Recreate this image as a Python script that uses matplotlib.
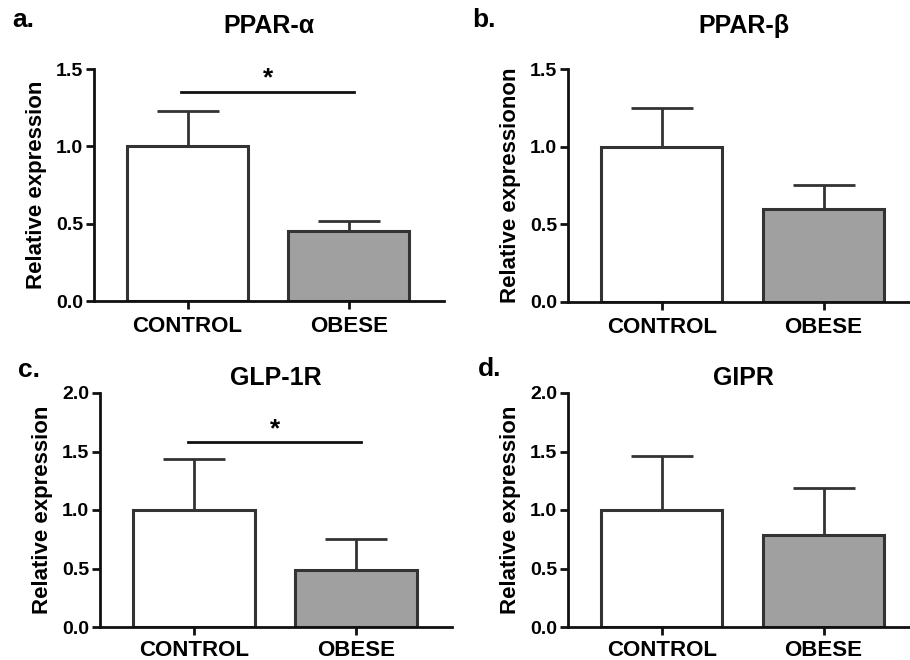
import matplotlib.pyplot as plt

plt.rcParams['font.family'] = ['Liberation Sans', 'DejaVu Sans']
plt.rcParams['font.weight'] = 'bold'

# data
groups = ['CONTROL', 'OBESE']
panel_letters = ['a.', 'b.', 'c.', 'd.']
titles = ['PPAR-α', 'PPAR-β', 'GLP-1R', 'GIPR']
ylabels = ['Relative expression', 'Relative expressionon',
           'Relative expression', 'Relative expression']
means = [[1.0, 0.45], [1.0, 0.60], [1.0, 0.49], [1.0, 0.79]]
sems = [[0.23, 0.07], [0.25, 0.15], [0.44, 0.26], [0.46, 0.40]]
ymax = [1.5, 1.5, 2.0, 2.0]
yticks = [[0.0, 0.5, 1.0, 1.5], [0.0, 0.5, 1.0, 1.5],
          [0.0, 0.5, 1.0, 1.5, 2.0], [0.0, 0.5, 1.0, 1.5, 2.0]]
sig_y = [1.35, None, 1.58, None]

bar_colors = ['white', '#a0a0a0']
edge = '#333333'

# axes boxes in pixels (left, right, bottom, top) for a 910x660 canvas
boxes = [(94, 444, 301, 69), (568, 919, 302, 69),
         (100, 452, 627, 393), (568, 919, 627, 393)]
letter_pos = [(12, 20), (472, 20), (18, 370), (478, 369)]

fig = plt.figure(figsize=(9.1, 6.6), dpi=100)

for i in range(4):
    l, r, b, t = boxes[i]
    ax = fig.add_axes([l / 910, 1 - b / 660, (r - l) / 910, (b - t) / 660])
    x = [0, 1]
    ax.errorbar(x, means[i], yerr=[[0, 0], sems[i]], fmt='none',
                ecolor=edge, elinewidth=2, capsize=22, capthick=2, zorder=1)
    ax.bar(x, means[i], width=0.75, color=bar_colors, edgecolor=edge,
           linewidth=2.2, zorder=2)
    ax.set_xlim(-0.58, 1.59)
    ax.set_ylim(0, ymax[i])
    ax.set_yticks(yticks[i])
    ax.set_yticklabels([f'{v:.1f}' for v in yticks[i]], fontsize=14, fontweight='bold')
    ax.set_xticks(x)
    ax.set_xticklabels(groups, fontsize=16, fontweight='bold')
    ax.spines['top'].set_visible(False)
    ax.spines['right'].set_visible(False)
    for s in ['left', 'bottom']:
        ax.spines[s].set_linewidth(2)
        ax.spines[s].set_color('#111111')
    ax.tick_params(width=2, length=6, color='#111111', pad=2)
    ax.tick_params(axis='x', pad=5 if i < 2 else 3)
    ax.set_ylabel(ylabels[i], fontsize=16, fontweight='bold', labelpad=6)
    ax.set_title(titles[i], fontsize=18, fontweight='bold',
                 pad=26 if ymax[i] == 1.5 else 6)
    if sig_y[i] is not None:
        ax.plot([-0.04, 1.03], [sig_y[i], sig_y[i]], color='#111111', lw=2)
        ax.text(0.5, sig_y[i] + 0.01, '*', ha='center', va='bottom',
                fontsize=19, fontweight='bold')
    lx, ly = letter_pos[i]
    fig.text(lx / 910, 1 - ly / 660, panel_letters[i], fontsize=19,
             fontweight='bold', va='center', ha='left')

fig.savefig('out.png', dpi=100)
